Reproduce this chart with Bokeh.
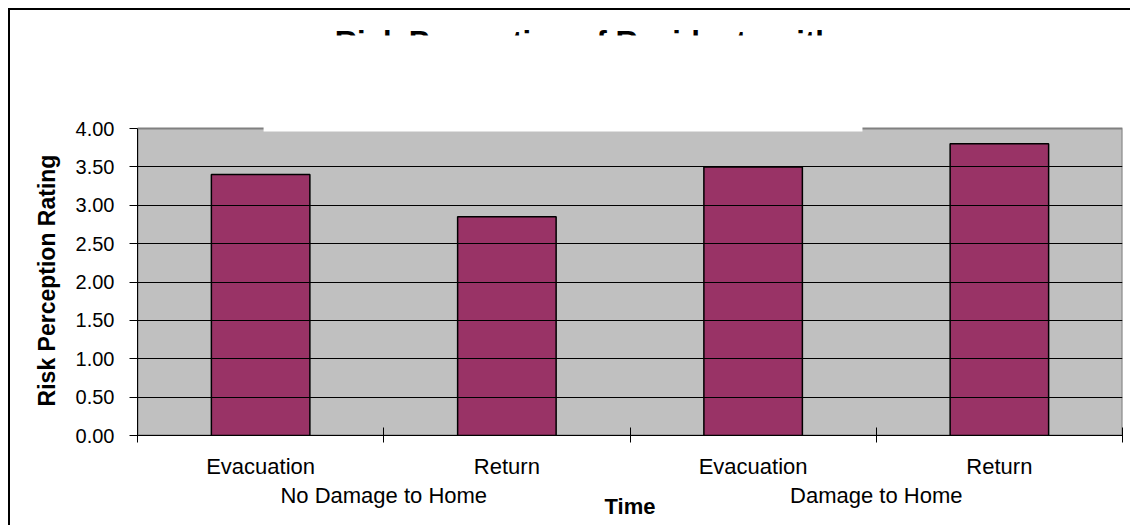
from bokeh.plotting import figure
from bokeh.layouts import column
from bokeh.models import (FactorRange, Range1d, LinearAxis, CategoricalAxis,
                          FixedTicker, NumeralTickFormatter, Grid)
from bokeh.embed import file_html
from bokeh.resources import INLINE
from bokeh.core.properties import value

# ---- data ----
title_text = "Risk Perception of Residents with"
groups = ["No Damage to Home", "No Damage to Home", "Damage to Home", "Damage to Home"]
times = ["Evacuation", "Return", "Evacuation", "Return"]
ratings = [3.40, 2.85, 3.50, 3.80]
y_ticks = [0.0, 0.5, 1.0, 1.5, 2.0, 2.5, 3.0, 3.5, 4.0]
y_label = "Risk Perception Rating"
x_label = "Time"

factors = list(zip(groups, times))
n = len(factors)
y_max = y_ticks[-1]

FONT = "Liberation Sans"

# ---- layout constants ----
PX_PER_Y = 76.75                      # pixels per rating unit
MAIN_TOP = y_max + 3 / PX_PER_Y       # main frame top (3 px above 4.00)
STRIP_BOTTOM = y_max + 18 / PX_PER_Y  # bottom of the title strip
TOP_END = y_max + 118 / PX_PER_Y      # top of the title strip


def make_range():
    return FactorRange(factors=factors, range_padding=0, factor_padding=0,
                       group_padding=0, subgroup_padding=0)


# ---------- top strip: the (mostly covered) title ----------
pt = figure(width=1120, height=100, output_backend="svg", toolbar_location=None,
            x_range=make_range(), y_range=Range1d(STRIP_BOTTOM, TOP_END),
            x_axis_type=None, y_axis_type=None,
            min_border_left=127, min_border_right=8, min_border_top=0, min_border_bottom=0)
pt.background_fill_color = "white"
pt.border_fill_color = "white"
pt.outline_line_color = None
pt.text(x=[1.815], y=[5.355], text=[title_text], text_font=value(FONT), text_font_style="bold",
        text_font_size="31px", text_align="center", text_baseline="top", text_color="black")
pt.quad(left=[0.512], right=[2.944], bottom=[y_max], top=[5.2117], fill_color="white", line_color=None)

# ---------- main chart ----------
p = figure(width=1120, height=415, output_backend="svg", toolbar_location=None,
           x_range=make_range(), y_range=Range1d(0, MAIN_TOP),
           x_axis_type=None, y_axis_type=None,
           min_border_left=127, min_border_right=8, min_border_top=15, min_border_bottom=90)
p.background_fill_color = "white"
p.border_fill_color = "white"
p.outline_line_color = None

# plot area
p.quad(left=[0], right=[n], bottom=[0], top=[y_max], fill_color="#c0c0c0",
       line_color="#808080", line_width=2, level="underlay")

# y axis
yaxis = LinearAxis(ticker=FixedTicker(ticks=y_ticks), formatter=NumeralTickFormatter(format="0.00"),
                   bounds=(0, y_max), axis_label=y_label,
                   axis_line_color="black", major_tick_line_color="black",
                   major_tick_in=0, major_tick_out=8, minor_tick_line_color=None,
                   major_label_standoff=15, major_label_text_font=FONT,
                   major_label_text_font_size="20px", major_label_text_color="black",
                   axis_label_text_font=FONT, axis_label_text_font_size="23px",
                   axis_label_text_font_style="bold", axis_label_text_color="black",
                   axis_label_standoff=13)
p.add_layout(yaxis, "left")

grid = Grid(dimension=1, ticker=FixedTicker(ticks=y_ticks[:-1]), grid_line_color="black",
            grid_line_width=1, level="glyph")
p.add_layout(grid)

# bars
p.vbar(x=factors, top=ratings, bottom=0, width=0.4,
       fill_color="#993366", line_color="black", line_width=1.5)

# white box continuing over the top edge of the plot area
p.quad(left=[0.512], right=[2.944], bottom=[3.96], top=[MAIN_TOP + 0.1], fill_color="white", line_color=None)

# x axes
ticks_x = list(range(n + 1))
xaxis = LinearAxis(ticker=FixedTicker(ticks=ticks_x), major_tick_in=8, major_tick_out=7,
                   major_label_overrides={t: "" for t in ticks_x},
                   major_label_text_font_size="1px", major_label_standoff=0,
                   axis_line_color="black", major_tick_line_color="black", minor_tick_line_color=None)
p.add_layout(xaxis, "below")

cat_axis = CategoricalAxis(axis_line_color=None, major_tick_line_color=None,
                           major_tick_in=0, major_tick_out=10, separator_line_color=None,
                           major_label_standoff=1, major_label_text_font=FONT,
                           major_label_text_font_size="22px", major_label_text_color="black",
                           group_text_font=FONT, group_text_font_size="22px",
                           group_text_font_style="normal", group_text_color="black",
                           axis_label=x_label, axis_label_text_font=FONT,
                           axis_label_text_font_size="22px", axis_label_text_font_style="bold",
                           axis_label_text_color="black", axis_label_standoff=-17)
p.add_layout(cat_axis, "below")

layout = column(pt, p, spacing=0)
layout.styles = {"border-left": "2px solid black", "border-top": "2px solid black",
                 "margin-left": "8px", "margin-top": "8px"}

open("out.html", "w").write(file_html(layout, INLINE))
